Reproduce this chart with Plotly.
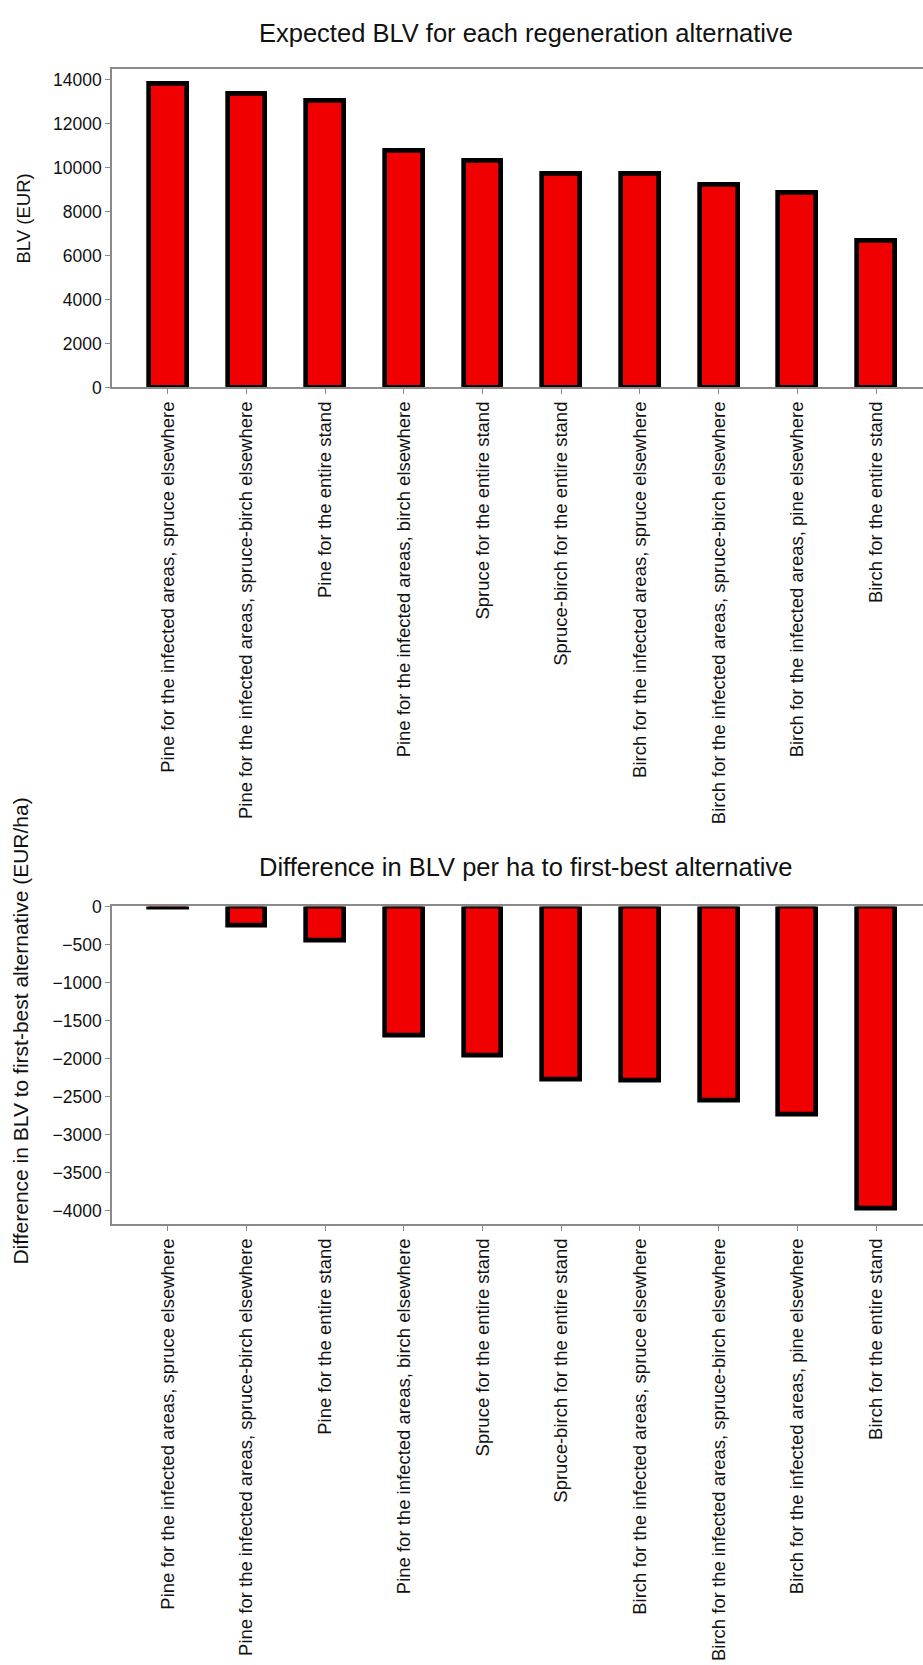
import plotly.graph_objects as go

categories = [
    "Pine for the infected areas, spruce elsewhere",
    "Pine for the infected areas, spruce-birch elsewhere",
    "Pine for the entire stand",
    "Pine for the infected areas, birch elsewhere",
    "Spruce for the entire stand",
    "Spruce-birch for the entire stand",
    "Birch for the infected areas, spruce elsewhere",
    "Birch for the infected areas, spruce-birch elsewhere",
    "Birch for the infected areas, pine elsewhere",
    "Birch for the entire stand",
]
blv_values = [13820, 13370, 13030, 10780, 10310, 9740, 9710, 9240, 8870, 6660]
diff_values = [-10, -255, -445, -1695, -1960, -2270, -2290, -2550, -2740, -3980]

top_title = "Expected BLV for each regeneration alternative"
bottom_title = "Difference in BLV per ha to first-best alternative"
top_ytitle = "BLV (EUR)"
bottom_ytitle = "Difference in BLV to first-best alternative (EUR/ha)"

W, H = 923, 1665
FONT = "Liberation Sans, Arial, sans-serif"
RED = "#f00000"
GRAY = "#8a8a8a"

fig = go.Figure()
fig.add_trace(go.Bar(x=categories, y=blv_values, width=0.48,
                     marker=dict(color=RED, line=dict(color="black", width=4.7)),
                     xaxis="x", yaxis="y", showlegend=False))
fig.add_trace(go.Bar(x=categories, y=diff_values, width=0.48,
                     marker=dict(color=RED, line=dict(color="black", width=4.7)),
                     xaxis="x2", yaxis="y2", showlegend=False))

def py(px):
    return 1 - px / H

xdom = [112 / W, 1.0]
xcommon = dict(type="category", categoryorder="array", categoryarray=categories,
               range=[-0.708, 9.597], showline=True, linecolor=GRAY, linewidth=1.5,
               mirror=True, ticks="outside", ticklen=5, tickcolor=GRAY, tickwidth=1.2,
               tickangle=-90, tickfont=dict(family=FONT, size=18.5, color="#111"),
               showgrid=False, zeroline=False, domain=xdom)
ycommon = dict(showline=True, linecolor=GRAY, linewidth=1.5, ticks="outside",
               ticklen=5, tickcolor=GRAY, tickwidth=1.2, tickformat="d",
               tickfont=dict(family=FONT, size=17.5, color="#111"),
               showgrid=False, zeroline=False)

fig.update_layout(
    width=W, height=H,
    margin=dict(l=0, r=0, t=0, b=0),
    paper_bgcolor="white", plot_bgcolor="white",
    bargap=0,
    xaxis=dict(**xcommon, anchor="y"),
    yaxis=dict(**ycommon, anchor="x", domain=[py(382), py(59.5)],
               range=[0, 14503], tickmode="linear", tick0=0, dtick=2000),
    xaxis2=dict(**xcommon, anchor="y2"),
    yaxis2=dict(**ycommon, anchor="x2", domain=[py(1229), py(907.3)],
                range=[-4182, 0], tickmode="linear", tick0=0, dtick=500),
    annotations=[
        dict(text=top_title, x=525.5 / W, y=py(23), xref="paper", yref="paper",
             xanchor="center", yanchor="middle", showarrow=False,
             font=dict(family=FONT, size=25.5, color="#111")),
        dict(text=bottom_title, x=525.5 / W, y=py(867), xref="paper", yref="paper",
             xanchor="center", yanchor="middle", showarrow=False,
             font=dict(family=FONT, size=25.5, color="#111")),
        dict(text=top_ytitle, x=23 / W, y=py(211), xref="paper", yref="paper",
             xanchor="center", yanchor="middle", showarrow=False, textangle=-90,
             font=dict(family=FONT, size=18.5, color="#111")),
        dict(text=bottom_ytitle, x=21 / W, y=py(1034), xref="paper", yref="paper",
             xanchor="center", yanchor="middle", showarrow=False, textangle=-90,
             font=dict(family=FONT, size=21, color="#111")),
    ],
)

fig.write_html("out.html")
